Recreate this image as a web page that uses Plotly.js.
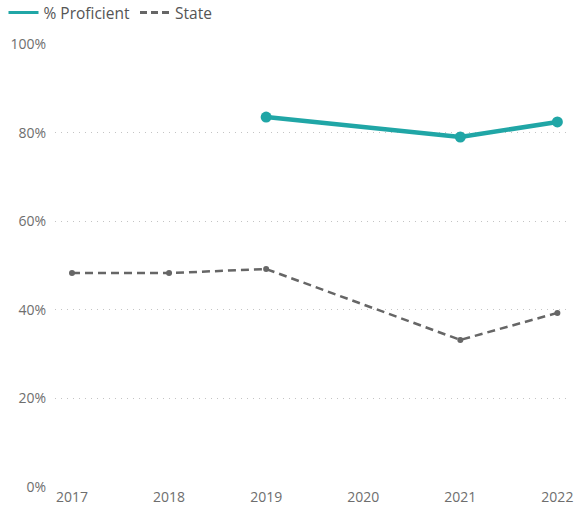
<!DOCTYPE html>
<html><head><meta charset="utf-8">
<script src="https://cdn.plot.ly/plotly-3.0.1.min.js"></script>
<style>html,body{margin:0;padding:0;background:#fff}#chart{width:577px;height:509px}</style>
</head><body><div id="chart"></div>
<script>
const years = [2017, 2018, 2019, 2020, 2021, 2022];
const proficient = [null, null, 0.835, null, 0.79, 0.824];
const state = [0.483, 0.483, 0.492, null, 0.332, 0.393];
const yTicks = [0, 0.2, 0.4, 0.6, 0.8, 1.0];
const yTickLabels = ['0%', '20%', '40%', '60%', '80%', '100%'];
const teal = '#20a6a6', gray = '#666666';

const traces = [
  {x: years, y: proficient, name: '% Proficient', mode: 'lines+markers', connectgaps: true, showlegend: false,
   line: {color: teal, width: 4.5}, marker: {color: teal, size: 11}},
  {x: years, y: state, name: 'State', mode: 'lines+markers', connectgaps: true, showlegend: false,
   line: {color: gray, width: 2.5, dash: '8px,5px'}, marker: {color: gray, size: 6}},
  {x: [null], y: [null], name: '% Proficient', mode: 'lines', line: {color: teal, width: 3}},
  {x: [null], y: [null], name: 'State', mode: 'lines', line: {color: gray, width: 3, dash: '7px,4px'}}
];
const layout = {
  width: 577, height: 509,
  margin: {l: 55, r: 7, t: 44, b: 22, autoexpand: false},
  paper_bgcolor: '#fff', plot_bgcolor: '#fff',
  font: {family: 'Open Sans, Noto Sans, sans-serif', color: '#666', size: 14},
  showlegend: true,
  legend: {orientation: 'h', x: -0.1, xanchor: 'left', y: 1.07, yanchor: 'middle',
           font: {size: 15.5, color: '#555'}, traceorder: 'normal', itemwidth: 30},
  xaxis: {range: [2016.825, 2022.13], tickvals: years, ticktext: years.map(String), automargin: false,
          showgrid: false, zeroline: false, showline: false, ticks: '', tickfont: {size: 14, color: '#6e6e6e'}},
  yaxis: {range: [0, 1.0], tickvals: yTicks, ticktext: yTickLabels, showgrid: true, automargin: false,
          gridcolor: '#c4c4c4', griddash: '1px,5px', gridwidth: 1, zeroline: false, showline: false,
          ticks: '', ticklabelstandoff: 8, tickfont: {size: 14, color: '#6e6e6e'}}
};
Plotly.newPlot('chart', traces, layout, {displayModeBar: false, staticPlot: true});
</script></body></html>
